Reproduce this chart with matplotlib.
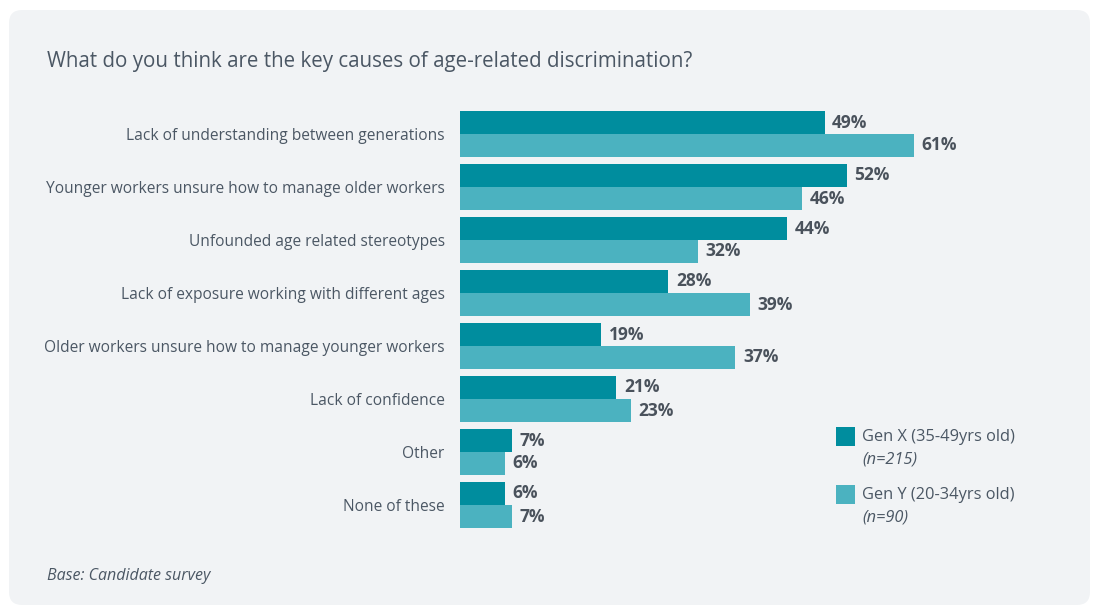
import matplotlib
matplotlib.use("Agg")
import matplotlib.pyplot as plt
from matplotlib.patches import FancyBboxPatch, Rectangle

categories = [
    "Lack of understanding between generations",
    "Younger workers unsure how to manage older workers",
    "Unfounded age related stereotypes",
    "Lack of exposure working with different ages",
    "Older workers unsure how to manage younger workers",
    "Lack of confidence",
    "Other",
    "None of these",
]
gen_x = [49, 52, 44, 28, 19, 21, 7, 6]
gen_y = [61, 46, 32, 39, 37, 23, 6, 7]
series_names = ["Gen X (35-49yrs old)", "Gen Y (20-34yrs old)"]
series_notes = ["(n=215)", "(n=90)"]

title = "What do you think are the key causes of age-related discrimination?"
footnote = "Base: Candidate survey"

W, H = 1093, 607
COL_X = "#008d9e"
COL_Y = "#4bb2c0"
TXT = "#4b5764"
VAL = "#4a525c"
PANEL = "#f1f3f5"
FONT = "Open Sans"

plt.rcParams["font.family"] = [FONT, "DejaVu Sans"]

fig = plt.figure(figsize=(W / 100, H / 100), dpi=100)
fig.patch.set_facecolor("white")

def fx(px):
    return px / W

def fy(py):
    return 1 - py / H

# rounded background panel
panel = FancyBboxPatch((fx(9), fy(605)), fx(1090 - 9), (605 - 10) / H,
                       boxstyle="round,pad=0,rounding_size=0.012",
                       transform=fig.transFigure, facecolor=PANEL,
                       edgecolor="none", zorder=-10, mutation_aspect=W / H)
fig.patches.append(panel)

# plotting area: one unit per category group
unit = 53.0
top = 134 - unit / 2
n = len(categories)
ax = fig.add_axes([fx(460), fy(top + n * unit), fx(80 * 7.44), n * unit / H])
ax.set_facecolor("none")
ax.set_xlim(0, 80)
ax.set_ylim(n - 0.5, -0.5)

bh = 23 / unit
pos = list(range(n))
ax.barh([p - bh / 2 for p in pos], gen_x, height=bh, color=COL_X, linewidth=0)
ax.barh([p + bh / 2 for p in pos], gen_y, height=bh, color=COL_Y, linewidth=0)

for p, vx, vy in zip(pos, gen_x, gen_y):
    ax.annotate(f"{vx}%", (vx, p - bh / 2), xytext=(5.5, 0), textcoords="offset points",
                va="center", ha="left", fontsize=12.5, fontweight="bold", color=VAL)
    ax.annotate(f"{vy}%", (vy, p + bh / 2), xytext=(5.5, 0), textcoords="offset points",
                va="center", ha="left", fontsize=12.5, fontweight="bold", color=VAL)

ax.set_yticks(pos)
ax.set_yticklabels(categories, fontsize=11.2, color=TXT)
ax.tick_params(axis="y", length=0, pad=11)
ax.set_xticks([])
for s in ax.spines.values():
    s.set_visible(False)

# title and footnote
fig.text(fx(47), fy(62), title, fontsize=14.8, color=TXT, va="center", ha="left")
fig.text(fx(47), fy(576), footnote, fontsize=11.5, color=TXT, va="center",
         ha="left", style="italic")

# legend
for i, (name, note, col) in enumerate(zip(series_names, series_notes, [COL_X, COL_Y])):
    y0 = 427 + i * 58
    fig.patches.append(Rectangle((fx(836), fy(y0 + 19)), fx(19), 19 / H,
                                 transform=fig.transFigure, facecolor=col,
                                 edgecolor="none"))
    fig.text(fx(862), fy(y0 + 10), name, fontsize=11.8, color=TXT, va="center", ha="left")
    fig.text(fx(862), fy(y0 + 32), note, fontsize=11.8, color=TXT, va="center",
             ha="left", style="italic")

fig.savefig("out.png", dpi=100, facecolor=fig.get_facecolor())
